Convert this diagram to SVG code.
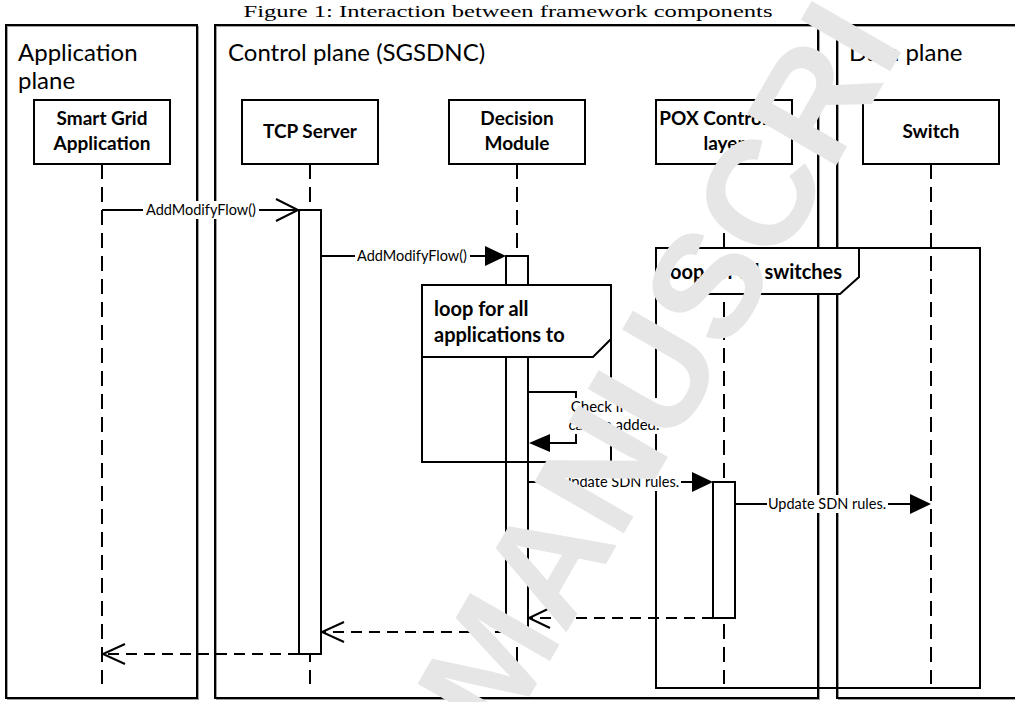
<svg xmlns="http://www.w3.org/2000/svg" width="1015" height="702" viewBox="0 0 1015 702">
<style>
.frame{fill:none;stroke:#000;stroke-width:2}
.shadow{fill:none;stroke:#a0a0a0;stroke-width:1}
.box{fill:#fff;stroke:#000;stroke-width:2}
.life{fill:none;stroke:#000;stroke-width:2;stroke-dasharray:15 8}
.act{fill:#fff;stroke:#000;stroke-width:2}
.msg{fill:none;stroke:#000;stroke-width:2}
.ret{fill:none;stroke:#000;stroke-width:2;stroke-dasharray:11 7}
.open{fill:none;stroke:#000;stroke-width:2}
.head{fill:#000;stroke:none}
.hdr{fill:#fff;stroke:#000;stroke-width:2}
.bg{fill:#fff;stroke:none}
.plane{font-family:Lato,"Liberation Sans",sans-serif;font-size:24px;fill:#000}
.nl{font-family:Lato,"Liberation Sans",sans-serif;font-size:19px;font-weight:bold;fill:#000;text-anchor:middle}
.ml{font-family:Lato,"Liberation Sans",sans-serif;font-size:14.5px;fill:#000;text-anchor:middle}
.cl{font-family:Lato,"Liberation Sans",sans-serif;font-size:15px;fill:#000;text-anchor:middle}
.ll{font-family:Lato,"Liberation Sans",sans-serif;font-size:20px;font-weight:bold;fill:#000}
.title{font-family:"Liberation Serif",serif;font-size:16px;fill:#000;text-anchor:middle}
.wm{font-family:"Liberation Sans",sans-serif;font-size:150px;font-weight:bold;fill:#e6e6e6}
</style>

<text class="title" x="508" y="17" textLength="529" lengthAdjust="spacingAndGlyphs">Figure 1: Interaction between framework components</text>

<g id="application-plane">
<rect class="shadow" x="7.5" y="26.5" width="191" height="673"/>
<rect class="frame" x="6" y="25" width="191" height="673"/>
<text class="plane" x="18" y="61">Application</text>
<text class="plane" x="18" y="89">plane</text>
</g>
<g id="control-plane">
<rect class="shadow" x="216.5" y="26.5" width="603" height="673"/>
<rect class="frame" x="215" y="25" width="603" height="673"/>
<text class="plane" x="228" y="61">Control plane (SGSDNC)</text>
</g>
<g id="data-plane">
<rect class="shadow" x="838.5" y="26.5" width="200" height="673"/>
<rect class="frame" x="837" y="25" width="200" height="673"/>
<text class="plane" x="849" y="61">Data plane</text>
</g>

<g id="lifelines">
<line class="life" x1="102" y1="164" x2="102" y2="684"/>
<line class="life" x1="310" y1="164" x2="310" y2="684"/>
<line class="life" x1="517" y1="164" x2="517" y2="684"/>
<line class="life" x1="724" y1="164" x2="724" y2="684"/>
<line class="life" x1="931" y1="164" x2="931" y2="684"/>
</g>

<g id="smart-grid-application">
<rect class="box" x="34" y="100" width="136" height="64"/>
<text class="nl" x="102" y="125">Smart Grid</text>
<text class="nl" x="102" y="150">Application</text>
</g>
<g id="tcp-server">
<rect class="box" x="242" y="100" width="136" height="64"/>
<text class="nl" x="310" y="138">TCP Server</text>
</g>
<g id="decision-module">
<rect class="box" x="449" y="100" width="136" height="64"/>
<text class="nl" x="517" y="125">Decision</text>
<text class="nl" x="517" y="150">Module</text>
</g>
<g id="pox-controller-layer">
<rect class="box" x="656" y="100" width="136" height="64"/>
<text class="nl" x="724" y="125">POX Controller</text>
<text class="nl" x="724" y="150">layer</text>
</g>
<g id="switch">
<rect class="box" x="863" y="100" width="136" height="64"/>
<text class="nl" x="931" y="138">Switch</text>
</g>

<g id="activations">
<rect class="act" x="299" y="210" width="22" height="444"/>
<rect class="act" x="506" y="256" width="22" height="376"/>
<rect class="act" x="713" y="482" width="22" height="136"/>
</g>

<g id="loop-applications">
<rect class="frame" x="422" y="285" width="189" height="177"/>
<path class="hdr" d="M422,285 H611 V339 L593,357 H422 Z"/>
<text class="ll" x="434" y="316">loop for all</text>
<text class="ll" x="434" y="342">applications to</text>
</g>
<g id="loop-switches">
<rect class="frame" x="656" y="248" width="324" height="440"/>
<path class="hdr" d="M656,248 H859 V277 L840,294 H656 Z"/>
<text class="ll" x="665" y="279">loop for all switches</text>
</g>

<g id="connectors">
<line class="msg" x1="102" y1="210" x2="298" y2="210"/>
<polyline class="open" points="276,199 298,210 276,221"/>
<rect class="bg" x="143" y="201" width="116" height="18"/>
<text class="ml" x="201" y="215">AddModifyFlow()</text>

<line class="msg" x1="321" y1="256" x2="490" y2="256"/>
<polygon class="head" points="506,256 485,246 485,266"/>
<rect class="bg" x="355" y="247" width="115" height="18"/>
<text class="ml" x="412" y="261">AddModifyFlow()</text>

<polyline class="msg" points="528,392 576,392 576,443 545,443"/>
<polygon class="head" points="529,443 550,434 550,452"/>
<rect class="bg" x="567" y="398" width="94" height="36"/>
<text class="cl" x="614" y="412">Check if flow</text>
<text class="cl" x="614" y="430">can be added.</text>

<line class="msg" x1="528" y1="482" x2="697" y2="482"/>
<polygon class="head" points="713,482 692,472 692,492"/>
<rect class="bg" x="560" y="473" width="121" height="18"/>
<text class="ml" x="620" y="487">Update SDN rules.</text>

<line class="msg" x1="735" y1="504" x2="915" y2="504"/>
<polygon class="head" points="931,504 910,494 910,514"/>
<rect class="bg" x="767" y="495" width="121" height="18"/>
<text class="ml" x="827" y="509">Update SDN rules.</text>

<line class="ret" x1="713" y1="618" x2="530" y2="618"/>
<polyline class="open" points="550,608 529,618 550,628"/>

<line class="ret" x1="506" y1="632" x2="323" y2="632"/>
<polyline class="open" points="344,622 322,632 344,642"/>

<line class="ret" x1="299" y1="654" x2="104" y2="654"/>
<polyline class="open" points="125,644 103,654 125,664"/>
</g>

<text class="wm" transform="translate(502,744) rotate(-60)">MANUSCRI</text>
</svg>
